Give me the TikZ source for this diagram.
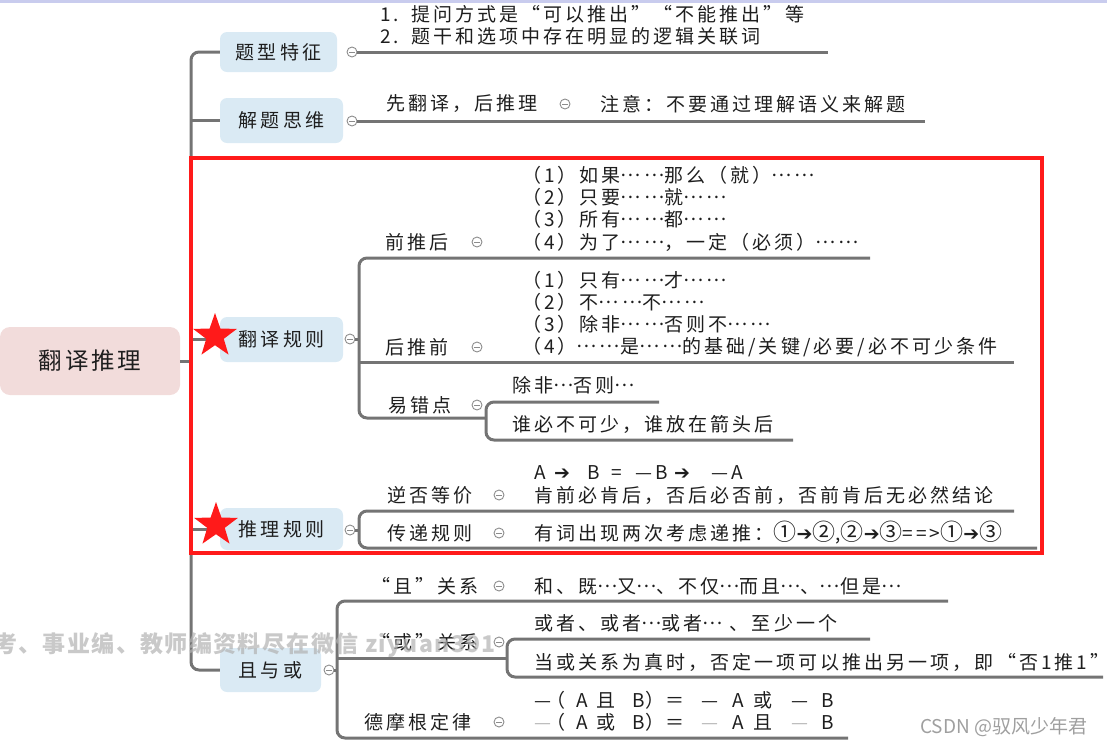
\documentclass[tikz,border=0pt]{standalone}
\usepackage{fontspec}
\setmainfont{Noto Sans CJK SC}
\newfontfamily\cjkff[LetterSpace=16]{Noto Sans CJK SC}
\newfontfamily\rootff[LetterSpace=12]{Noto Sans CJK SC}
\newfontfamily\wmff[LetterSpace=6]{Noto Sans CJK SC}
\newfontfamily\plainff{Noto Sans CJK SC}
\newfontfamily\djv{DejaVu Sans}
\usetikzlibrary{shapes.geometric}
\definecolor{lg}{HTML}{747474}
\definecolor{nodeblue}{HTML}{DAEAF4}
\definecolor{rootpink}{HTML}{F2DCDB}
\definecolor{tc}{HTML}{1E1E1E}
\definecolor{cg}{HTML}{8C8C8C}
\definecolor{lav}{HTML}{C9CCEE}
\definecolor{boxred}{HTML}{FF1A1A}
\newcommand\myBody{\cjkff\fontsize{19}{22}\selectfont}
\newcommand\myArr{{\djv\fontsize{19}{22}\selectfont ➔}}
\newcommand\cn[1]{{\fontsize{23}{22}\selectfont #1}}
\newcommand\md[1]{\raisebox{0.32em}[0pt][0pt]{#1}}
\newcommand\lgd{{\color{gray!55}—}}
\newcommand\tk[2]{\rlap{\hspace*{#1pt}#2}}
\begin{document}
\begin{tikzpicture}[x=1pt,y=-1pt,
 br/.style={draw=lg, line width=3pt, rounded corners=8pt},
 topic/.style={fill=nodeblue, rounded corners=7pt, inner sep=0pt, font=\myBody, text=tc},
 txt/.style={anchor=west, inner sep=0pt, font=\myBody, text=tc},
 col/.style={circle, draw=cg, line width=0.9pt, minimum size=10pt, inner sep=0pt, fill=white,
   path picture={\draw[cg, line width=0.9pt] ([xshift=-2.6pt]path picture bounding box.center) -- ([xshift=2.6pt]path picture bounding box.center);}},
 bigstar/.style={star, star points=5, star point ratio=2.5, fill=boxred, draw=none, minimum size=46pt, inner sep=0pt},
]
\useasboundingbox (0,0) rectangle (1107,748);
\fill[lav] (0,0) rectangle (1107,2.5);

% root and topics
\node[fill=rootpink, rounded corners=10pt, minimum width=180pt, minimum height=68pt, inner sep=0pt,
  font=\rootff\fontsize{23.5}{26}\selectfont, text=tc] (root) at (90,361) {翻译推理};
\node[topic, minimum width=117pt, minimum height=40pt] (n1) at (278.5,52) {题型特征};
\node[topic, minimum width=123pt, minimum height=45pt] (n2) at (281.5,120.5) {解题思维};
\node[topic, minimum width=123pt, minimum height=45pt] (n3) at (281.5,339.5) {翻译规则};
\node[topic, minimum width=123pt, minimum height=42pt] (n4) at (281.5,529) {推理规则};
\node[topic, minimum width=101pt, minimum height=44pt] (n5) at (270.5,670) {且与或};

% main trunk
\coordinate (T) at (191,361);
\draw[br] (n1.west) -| (T) |- (n5.west);
\draw[br] (n2.west) -- (T |- n2.west);
\draw[br] (n3.west) -- (T |- n3.west);
\draw[br] (n4.west) -- (T |- n4.west);
\draw[br] (root.east) -- (T);

% 题型特征
\node[col] (c1) at (352,52) {};
\coordinate (e1) at (828,52);
\draw[br] (c1) -- (e1);
\node[txt] (t11) at (380,14) {1.\hspace{12pt}提问方式是“可以推出”“不能推出”等};
\node[txt] (t12) at (380,36) {2.\hspace{12pt}题干和选项中存在明显的逻辑关联词};

% 解题思维
\node[col] (c2) at (352,121) {};
\coordinate (e2) at (925,121);
\draw[br] (c2) -- (e2);
\node[txt] (t21) at (386,104) {先翻译，后推理};
\node[col] (c21) at (565,104) {};
\node[txt] (t22) at (600,104) {注意：不要通过理解语义来解题};

% 翻译规则
\node[col] (c3) at (350,339) {};
\coordinate (T3) at (359,339);
\coordinate (e31) at (870,258);
\coordinate (e32) at (1014,362);
\coordinate (b3) at (486,418);
\coordinate (e34) at (659,402);
\coordinate (e35) at (793,440);
\draw[br] (c3) -- (T3);
\draw[br] (e31) -| (T3) |- (b3);
\draw[br] (e32) -- (T3 |- e32);
\draw[br] (e34) -| (b3) |- (e35);
\node[txt] (l31) at (385,242) {前推后};
\node[col] (c31) at (477,242) {};
\node[txt] (q1) at (522,175) {（1）如果\md{……}那么（就）\md{……}};
\node[txt] (q2) at (522,197) {（2）只要\md{……}就\md{……}};
\node[txt] (q3) at (522,219) {（3）所有\md{……}都\md{……}};
\node[txt] (q4) at (522,242) {（4）为了\md{……}，一定（必须）\md{……}};
\node[txt] (l32) at (385,347) {后推前};
\node[col] (c32) at (477,347) {};
\node[txt] (h1) at (522,280) {（1）只有\md{……}才\md{……}};
\node[txt] (h2) at (522,302) {（2）不\md{……}不\md{……}};
\node[txt] (h3) at (522,324) {（3）除非\md{……}否则不\md{……}};
\node[txt] (h4) at (522,347) {（4）\md{……}是\md{……}的基础/关键/必要/必不可少条件};
\node[txt] (l33) at (388,405) {易错点};
\node[col] (c33) at (477,405) {};
\node[txt] (y1) at (512,385) {除非\md{…}否则\md{…}};
\node[txt] (y2) at (512,424) {谁必不可少，谁放在箭头后};

% 推理规则
\node[col] (c4) at (350,530) {};
\coordinate (T4) at (359,530);
\coordinate (e41) at (1014,511);
\coordinate (e42) at (1037,548);
\draw[br] (c4) -- (T4);
\draw[br] (e41) -| (T4) |- (e42);
\node[txt] (l41) at (387,495) {逆否等价};
\node[col] (c41) at (499,495) {};
\node[txt] (r1) at (534,473) {\tk{0}{A}\tk{20}{\myArr}\tk{53}{B}\tk{77}{=}\tk{101}{—B}\tk{140}{\myArr}\tk{177}{—A}\hspace*{210pt}};
\node[txt] (r2) at (534,495) {肯前必肯后，否后必否前，否前肯后无必然结论};
\node[txt] (l42) at (387,533) {传递规则};
\node[col] (c42) at (499,533) {};
\node[txt] (r3) at (534,533) {有词出现两次考虑递推：\cn{①}\myArr\cn{②},\cn{②}\myArr\cn{③}==>\cn{①}\myArr\cn{③}};

% red frame and stars
\draw[boxred, line width=4pt] (191,158) rectangle (1042,553);
\node[bigstar] (st1) at (215,336) {};
\node[bigstar] (st2) at (216,525) {};

% 且与或
\node[col] (c5) at (329,670) {};
\coordinate (T5) at (337,670);
\coordinate (e51) at (948,601);
\coordinate (e53) at (848,738);
\coordinate (b5) at (507,658);
\coordinate (e521) at (870,639);
\coordinate (e522) at (1103,677);
\draw[br] (c5) -- (T5);
\draw[br] (e51) -| (T5) |- (e53);
\draw[br] (T5 |- b5) -- (b5);
\draw[br] (e521) -| (b5) |- (e522);
\node[txt] (l51) at (371,586) {“且”关系};
\node[col] (c51) at (499,586) {};
\node[txt] (s1) at (534,586) {和、既\md{…}又\md{…}、不仅\md{…}而且\md{…}、\md{…}但是\md{…}};
\node[txt] (l52) at (371,642) {“或”关系};
\node[col] (c52) at (499,642) {};
\node[txt] (s2) at (534,623) {或者、或者\md{…}或者\md{…} 、至少一个};
\node[txt] (s3) at (534,662) {当或关系为真时，否定一项可以推出另一项，即“否1推1”};
\node[txt] (l53) at (364,722) {德摩根定律};
\node[col] (c53) at (499,722) {};
\node[txt] (s4) at (534,700) {\tk{0}{—}\tk{12}{（}\tk{42}{A}\tk{62}{且}\tk{98}{B}\tk{111}{）}\tk{131}{＝}\tk{167}{—}\tk{198}{A}\tk{219}{或}\tk{257}{—}\tk{287}{B}\hspace*{300pt}};
\node[txt] (s5) at (534,722) {\tk{0}{\lgd}\tk{12}{（}\tk{42}{A}\tk{62}{或}\tk{98}{B}\tk{111}{）}\tk{131}{＝}\tk{167}{\lgd}\tk{198}{A}\tk{219}{且}\tk{257}{\lgd}\tk{287}{B}\hspace*{300pt}};

% watermarks
\node[anchor=west, inner sep=0pt, font=\wmff\bfseries\fontsize{23}{26}\selectfont, text=gray!60, opacity=0.7] (wm) at (-6,645) {考、事业编、教师编资料尽在微信 ziyuan391};
\node[anchor=west, inner sep=0pt, font=\plainff\fontsize{19}{22}\selectfont, text=gray!75] (csdn) at (920,727) {CSDN @驭风少年君};
\end{tikzpicture}
\end{document}
